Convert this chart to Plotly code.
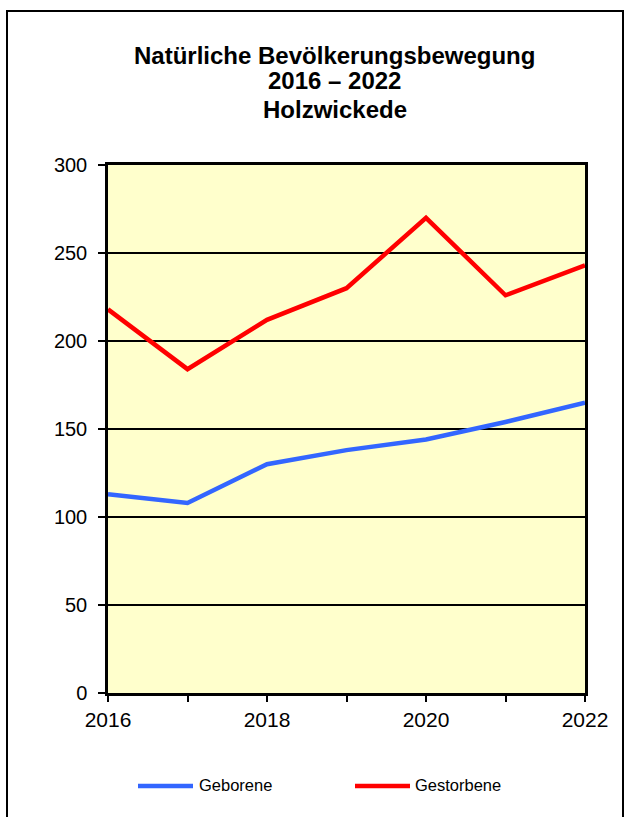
import plotly.graph_objects as go

years = [2016, 2017, 2018, 2019, 2020, 2021, 2022]
geborene = [113, 108, 130, 138, 144, 154, 165]
gestorbene = [218, 184, 212, 230, 270, 226, 243]
x_tick_text = ["2016", "", "2018", "", "2020", "", "2022"]
y_ticks = [0, 50, 100, 150, 200, 250, 300]
series_names = ["Geborene", "Gestorbene"]
series_colors = ["#3366FF", "#FF0000"]
title_lines = ["Natürliche Bevölkerungsbewegung", "2016 – 2022", "Holzwickede"]

W, H = 625, 817
L, R, T, B = 108, 40, 165, 124
PW, PH = W - L - R, H - T - B


def px(xp):
    return (xp - L) / PW


def py(yp):
    return (H - B - yp) / PH


fig = go.Figure()
for name, vals, col in zip(series_names, [geborene, gestorbene], series_colors):
    fig.add_trace(go.Scatter(x=years, y=vals, mode="lines", name=name,
                             line=dict(color=col, width=4.5), showlegend=False,
                             cliponaxis=False))

font_family = "Liberation Sans, Arial, sans-serif"

shapes = [
    # outer frame
    dict(type="rect", xref="paper", yref="paper", x0=px(7), x1=px(623), y0=py(840), y1=py(11),
         line=dict(color="black", width=2), fillcolor="rgba(0,0,0,0)", layer="below"),
]
annotations = []
# title lines
for txt, yc in zip(title_lines, [55, 81, 109]):
    annotations.append(dict(xref="paper", yref="paper", x=px(334.5), y=py(yc),
                            text="<b>" + txt + "</b>", showarrow=False,
                            xanchor="center", yanchor="middle",
                            font=dict(size=24, color="black", family=font_family)))
# custom legend
leg = [(138, 193, 197), (355, 410, 413)]
for (x0, x1, tx), name, col in zip(leg, series_names, series_colors):
    shapes.append(dict(type="line", xref="paper", yref="paper", x0=px(x0), x1=px(x1),
                       y0=py(786), y1=py(786), line=dict(color=col, width=4.5)))
    annotations.append(dict(xref="paper", yref="paper", x=px(tx), y=py(785), text=name,
                            showarrow=False, xanchor="left", yanchor="middle",
                            font=dict(size=16.5, color="black", family=font_family)))

fig.update_layout(
    width=W, height=H,
    margin=dict(l=L, r=R, t=T, b=B, pad=0),
    paper_bgcolor="white",
    plot_bgcolor="#FFFFCC",
    font=dict(family=font_family, color="black"),
    shapes=shapes,
    annotations=annotations,
    xaxis=dict(range=[2016, 2022], tickvals=years, ticktext=x_tick_text,
               showgrid=False, zeroline=False, showline=True, linecolor="black",
               linewidth=2.5, mirror=True, ticks="outside", ticklen=6, tickwidth=2,
               tickcolor="black", tickfont=dict(size=21, color="black"),
               ticklabelstandoff=0),
    yaxis=dict(range=[0, 300], tickvals=y_ticks, showgrid=True, gridcolor="black",
               gridwidth=1.8, zeroline=False, showline=True, linecolor="black",
               linewidth=2.5, mirror=True, ticks="outside", ticklen=7, tickwidth=2,
               tickcolor="black", tickfont=dict(size=20, color="black"),
               ticklabelstandoff=7),
)

fig.write_html("out.html", config={"displayModeBar": False},
               post_script="document.body.style.margin='0';document.body.style.overflow='hidden';")
